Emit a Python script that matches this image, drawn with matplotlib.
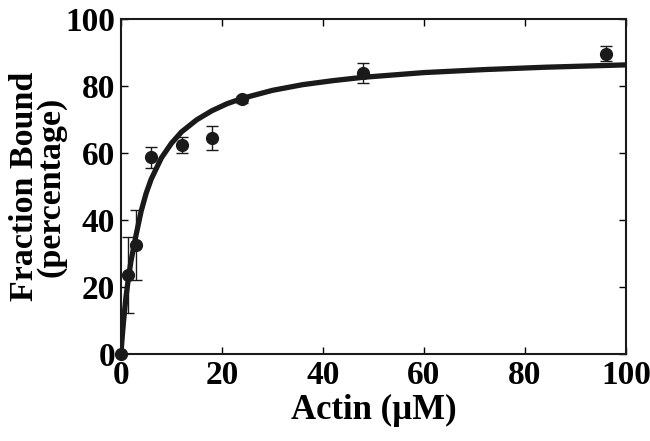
import matplotlib
matplotlib.use("Agg")
import matplotlib.pyplot as plt

# measured points (actin in uM, fraction bound in %)
actin = [0, 1.5, 3, 6, 12, 18, 24, 48, 96]
bound = [0, 23.6, 32.5, 58.7, 62.4, 64.4, 76.0, 83.8, 89.6]
bound_err = [0, 11.3, 10.5, 3.2, 2.5, 3.6, 1.0, 3.0, 2.2]

# fitted binding curve
fit_x = [0, 0.25, 0.5, 1, 1.5, 2, 3, 4, 5, 6, 8, 10, 12, 15, 18, 21, 24,
         30, 36, 42, 48, 60, 72, 84, 100]
fit_y = [0, 4.9, 9.4, 17.0, 22.8, 27.8, 35.5, 42.6, 48.0, 52.2, 58.5, 62.9,
         66.3, 69.9, 72.6, 74.7, 76.3, 78.7, 80.4, 81.6, 82.6, 84.0, 84.9,
         85.6, 86.3]

plt.rcParams['font.family'] = ['Liberation Serif', 'DejaVu Serif']
plt.rcParams['font.weight'] = 'bold'

fig = plt.figure(figsize=(6.5, 4.41), dpi=100)
ax = fig.add_axes([0.186, 0.197, 0.777, 0.760])

ax.plot(fit_x, fit_y, color='#1a1a1a', linewidth=3.8, solid_capstyle='round', zorder=2)
eb = ax.errorbar(actin, bound, yerr=bound_err, fmt='o', color='#1a1a1a',
                 markersize=8.5, elinewidth=1.0, capsize=4, capthick=1.0, zorder=3)
for art in eb.lines[0:1] + tuple(eb.lines[1]) + tuple(eb.lines[2]):
    art.set_clip_on(False)

ax.set_xlim(0, 100)
ax.set_ylim(0, 100)
ax.set_xticks([0, 20, 40, 60, 80, 100])
ax.set_yticks([0, 20, 40, 60, 80, 100])
ax.tick_params(direction='in', length=5, width=1.0, top=True, right=True,
               labelsize=24, pad=4)
for s in ax.spines.values():
    s.set_linewidth(1.5)
    s.set_color('#1a1a1a')

ax.set_xlabel("Actin (\u00b5M)", fontsize=25, fontweight='bold', labelpad=2)
ax.set_ylabel("Fraction Bound\n(percentage)", fontsize=24.5, fontweight='bold',
              labelpad=-1, linespacing=0.8)

fig.savefig("out.png", dpi=100)
